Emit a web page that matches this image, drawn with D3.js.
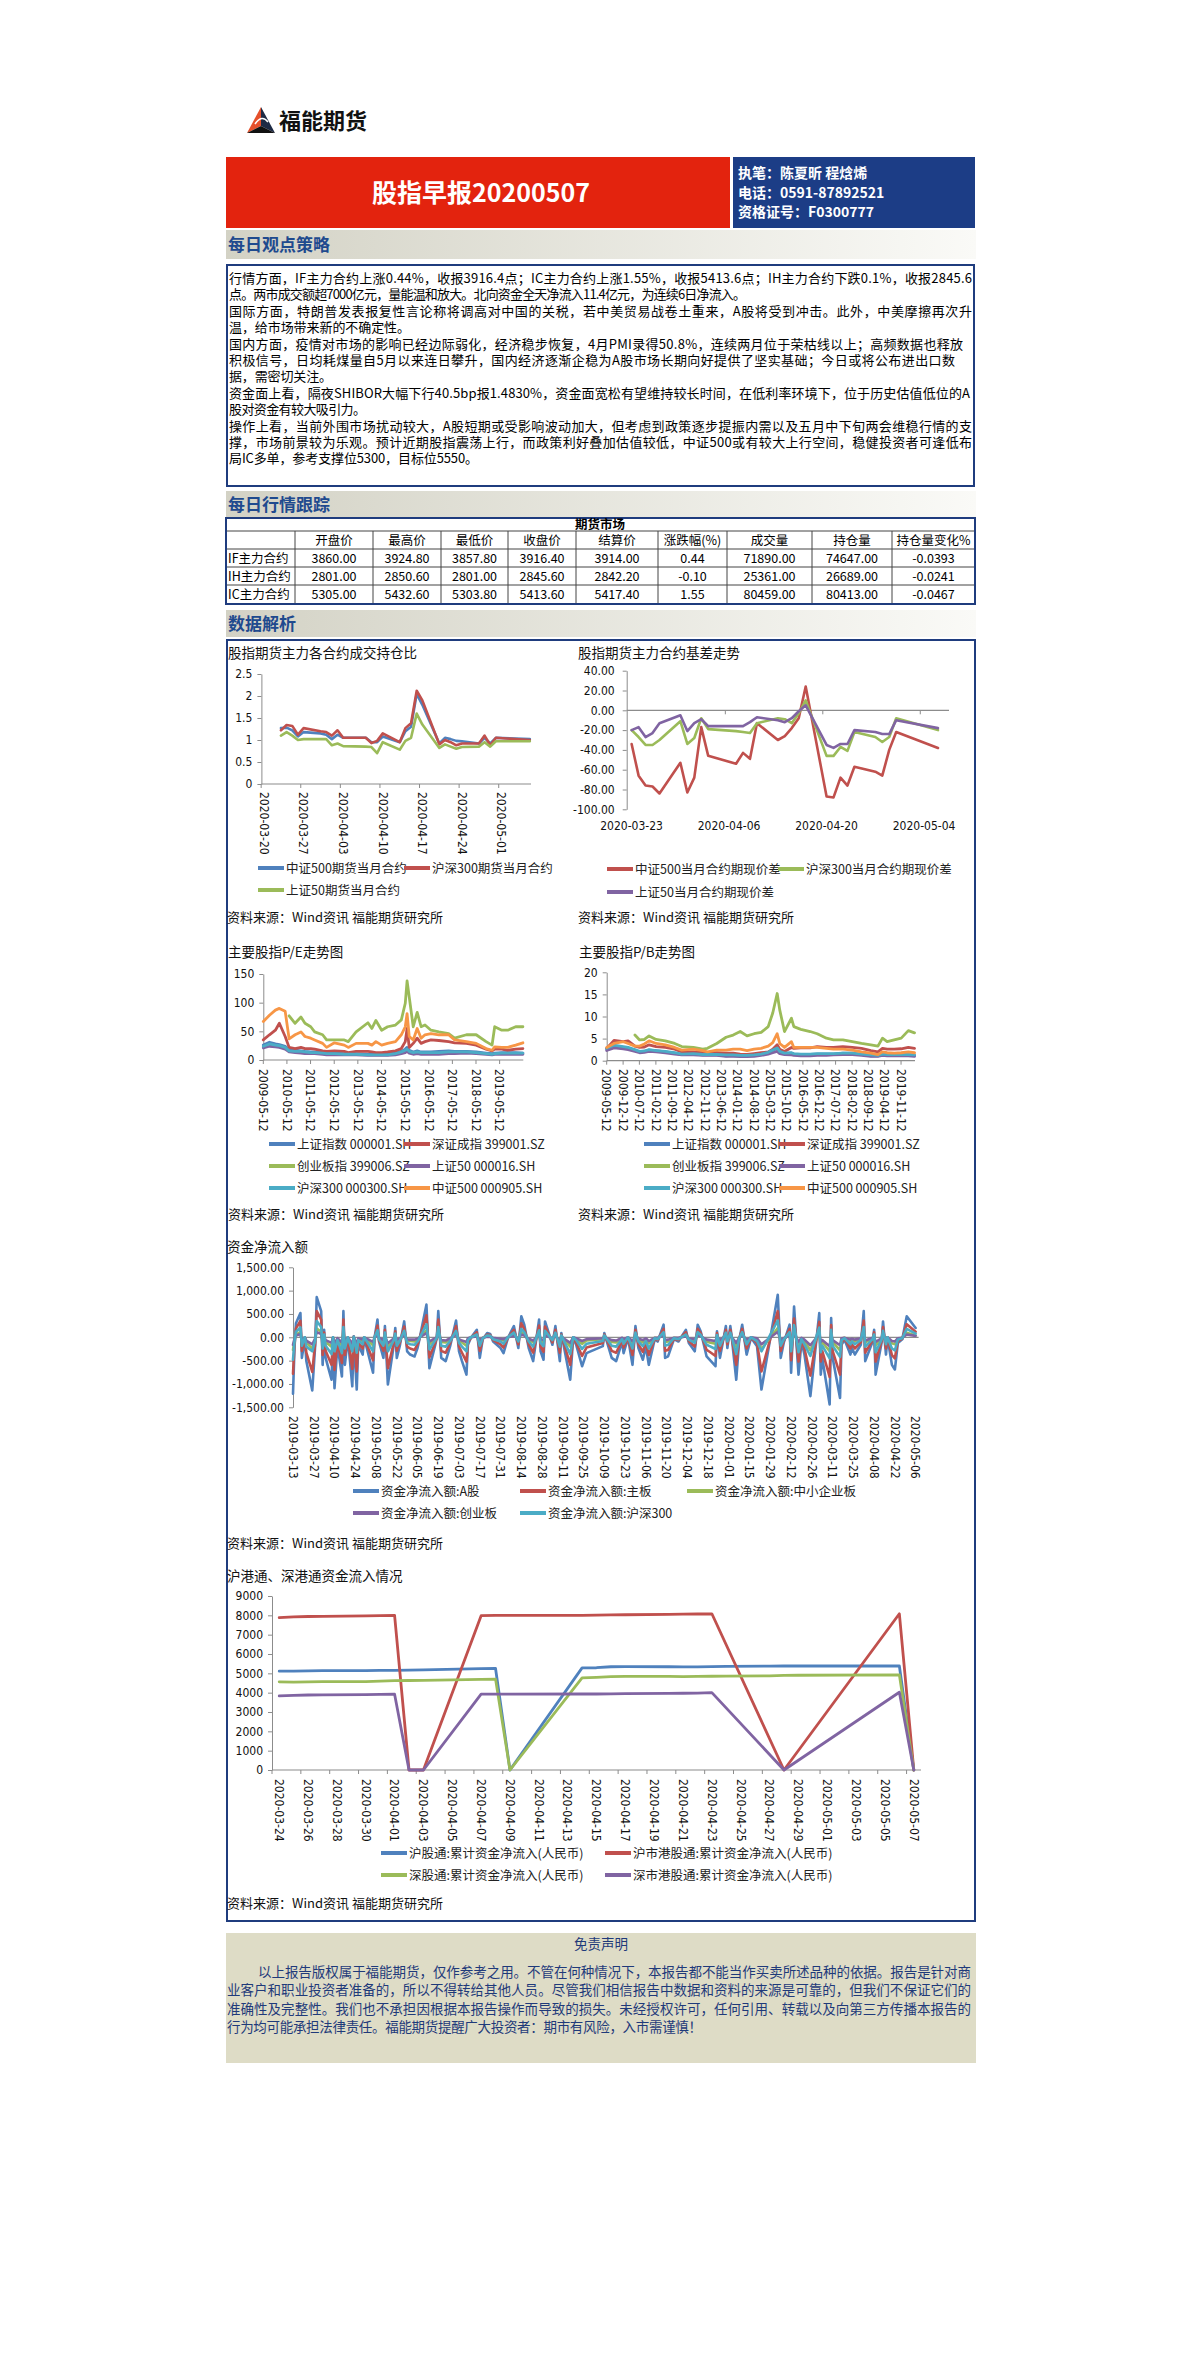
<!DOCTYPE html>
<html>
<meta charset="utf-8">
<head>
<style>
body { margin: 0; background: #fff; }
</style>
<script src="https://d3js.org/d3.v7.min.js"></script>
</head>
<body>
<svg width="1200" height="2362"></svg>
<script>
// ---- text content ----
var viewLines = [
  "行情方面，IF主力合约上涨0.44%，收报3916.4点；IC主力合约上涨1.55%，收报5413.6点；IH主力合约下跌0.1%，收报2845.6",
  "点。两市成交额超7000亿元，量能温和放大。北向资金全天净流入11.4亿元，为连续6日净流入。",
  "国际方面，特朗普发表报复性言论称将调高对中国的关税，若中美贸易战卷土重来，A股将受到冲击。此外，中美摩擦再次升",
  "温，给市场带来新的不确定性。",
  "国内方面，疫情对市场的影响已经边际弱化，经济稳步恢复，4月PMI录得50.8%，连续两月位于荣枯线以上；高频数据也释放",
  "积极信号，日均耗煤量自5月以来连日攀升，国内经济逐渐企稳为A股市场长期向好提供了坚实基础；今日或将公布进出口数",
  "据，需密切关注。",
  "资金面上看，隔夜SHIBOR大幅下行40.5bp报1.4830%，资金面宽松有望维持较长时间，在低利率环境下，位于历史估值低位的A",
  "股对资金有较大吸引力。",
  "操作上看，当前外围市场扰动较大，A股短期或受影响波动加大，但考虑到政策逐步提振内需以及五月中下旬两会维稳行情的支",
  "撑，市场前景较为乐观。预计近期股指震荡上行，而政策利好叠加估值较低，中证500或有较大上行空间，稳健投资者可逢低布",
  "局IC多单，参考支撑位5300，目标位5550。"
];
var disclaimerLines = [
  "以上报告版权属于福能期货，仅作参考之用。不管在何种情况下，本报告都不能当作买卖所述品种的依据。报告是针对商",
  "业客户和职业投资者准备的，所以不得转给其他人员。尽管我们相信报告中数据和资料的来源是可靠的，但我们不保证它们的",
  "准确性及完整性。我们也不承担因根据本报告操作而导致的损失。未经授权许可，任何引用、转载以及向第三方传播本报告的",
  "行为均可能承担法律责任。福能期货提醒广大投资者：期市有风险，入市需谨慎！"
];

// ---- futures table ----
var tableCols = ["开盘价", "最高价", "最低价", "收盘价", "结算价", "涨跌幅(%)", "成交量", "持仓量", "持仓量变化%"];
var contracts = ["IF主力合约", "IH主力合约", "IC主力合约"];
var openPrice = [3860.00, 2801.00, 5305.00];
var highPrice = [3924.80, 2850.60, 5432.60];
var lowPrice = [3857.80, 2801.00, 5303.80];
var closePrice = [3916.40, 2845.60, 5413.60];
var settlePrice = [3914.00, 2842.20, 5417.40];
var changePct = [0.44, -0.10, 1.55];
var volume = [71890.00, 25361.00, 80459.00];
var openInt = [74647.00, 26689.00, 80413.00];
var oiChange = [-0.0393, -0.0241, -0.0467];

// ---- chart 1 & 2: trading days ----
var tradeDates = ["2020-03-23","2020-03-24","2020-03-25","2020-03-26","2020-03-27","2020-03-30","2020-03-31","2020-04-01","2020-04-02","2020-04-03",
  "2020-04-07","2020-04-08","2020-04-09","2020-04-10","2020-04-13","2020-04-14","2020-04-15","2020-04-16","2020-04-17","2020-04-20",
  "2020-04-21","2020-04-22","2020-04-23","2020-04-24","2020-04-27","2020-04-28","2020-04-29","2020-04-30","2020-05-06"];
var ratioNames = ["中证500期货当月合约", "沪深300期货当月合约", "上证50期货当月合约"];
var ratioIC = [1.27,1.28,1.22,1.08,1.18,1.15,1.12,1.02,1.12,1.05, 1.05,0.95,0.95,1.08,0.95,1.20,1.30,2.05,1.80,0.92, 1.05,1.02,0.98,0.97,0.92,1.05,0.92,1.05,1.02];
var ratioIF = [1.22,1.34,1.32,1.12,1.27,1.20,1.18,1.10,1.22,1.05, 1.05,0.93,0.98,1.15,0.95,1.27,1.38,2.12,1.90,0.90, 1.00,0.95,0.88,0.92,0.92,1.10,0.88,1.05,1.00];
var ratioIH = [1.10,1.18,1.10,1.00,1.02,1.02,1.02,0.88,0.92,0.86, 0.85,0.84,0.70,0.95,0.78,0.98,1.05,1.60,1.35,0.82, 0.90,0.85,0.80,0.84,0.85,0.95,0.85,0.97,0.97];

var basisNames = ["中证500当月合约期现价差", "沪深300当月合约期现价差", "上证50当月合约期现价差"];
var basisIC = [-34,-66,-76,-77,-84,-53,-83,-68,-17,-46, -54,-43,-49,-13,-30,-26,-18,-8,24,-87, -88,-68,-76,-57,-62,-66,-40,-22,-38];
var basisIF = [-20,-27,-35,-35,-30,-11,-34,-28,-8,-19, -21,-22,-23,-13,-8,-9,-13,-3,10,-46, -46,-37,-41,-22,-27,-32,-27,-8,-20];
var basisIH = [-20,-17,-27,-23,-13,-5,-21,-13,-9,-16, -16,-16,-12,-7,-10,-12,-8,-1,5,-35, -38,-34,-34,-20,-22,-24,-24,-10,-18];

// ---- chart 3: P/E ----
var indexNames = ["上证指数 000001.SH", "深证成指 399001.SZ", "创业板指 399006.SZ", "上证50 000016.SH", "沪深300 000300.SH", "中证500 000905.SH"];
var peDates = ["2009-05-12","2009-08-15","2009-11-15","2010-01-15","2010-04-15","2010-06-15","2010-09-15","2010-12-15","2011-02-15","2011-05-15",
  "2011-07-15","2011-11-15","2012-01-15","2012-05-15","2012-10-15","2012-12-15","2013-04-15","2013-10-15","2013-12-15","2014-02-15",
  "2014-05-15","2014-08-15","2014-12-15","2015-03-15","2015-05-15","2015-06-12","2015-07-15","2015-09-15","2015-11-15","2016-01-15",
  "2016-03-15","2016-06-15","2016-10-15","2017-03-15","2017-06-15","2017-12-15","2018-05-15","2018-10-15","2019-01-15","2019-02-25",
  "2019-06-15","2019-09-15","2020-01-15","2020-05-06"];
var peSH = [26,31,28,27,24, 18,17,16,15,14, 14,13,12,12,11, 11,11,10,10,10, 10,10,13,15,19, 22,17,14,16,14, 14,14,15,16,15, 15,14,12,11,12, 13,13,13,12];
var peSZ = [35,44,52,64,41, 22,20,22,20,20, 19,16,15,16,15, 13,15,15,14,13, 13,14,16,20,32, 55,22,29,38,29, 32,35,34,32,30, 29,26,19,16,19, 19,17,19,20];
var peCYB = [null,null,null,null,null, 77,64,75,64,58, 49,44,35,35,35, 32,49,65,55,69, 52,58,61,70,99, 138,110,58,83,58, 61,52,49,46,38, 44,44,32,26,58, 52,52,58,58];
var peSZ50 = [21,24,23,22,19, 14,13,12,11,11, 11,10,9,9,9, 9,9,8,8,8, 8,8,9,11,13, 15,12,10,11,10, 10,10,10,11,11, 12,11,10,9,10, 10,10,10,10];
var peHS300 = [24,28,26,25,22, 16,15,15,14,13, 13,12,11,11,10, 10,10,9,9,9, 9,9,11,14,17, 19,15,13,14,13, 13,13,13,14,14, 14,13,11,10,11, 12,12,12,12];
var peZZ500 = [67,78,87,90,85, 37,44,49,41,38, 35,29,22,30,26, 22,29,29,26,32, 26,29,32,44,58, 81,41,35,55,38, 44,46,44,44,35, 32,29,20,17,23, 22,22,26,30];

// ---- chart 4: P/B ----
var pbDates = ["2009-05-12","2009-08-15","2009-12-15","2010-02-15","2010-05-15","2010-07-15","2010-09-15","2010-11-15","2011-02-15","2011-06-15",
  "2011-10-15","2012-01-15","2012-06-15","2012-10-15","2012-12-15","2013-04-15","2013-08-15","2013-11-15","2014-02-15","2014-05-15",
  "2014-08-15","2014-11-15","2015-02-15","2015-04-15","2015-06-12","2015-07-15","2015-09-15","2015-12-15","2016-01-15","2016-04-15",
  "2016-08-15","2016-11-15","2017-03-15","2017-06-15","2017-10-15","2018-02-15","2018-06-15","2018-10-15","2019-01-15","2019-03-15",
  "2019-05-15","2019-08-15","2019-11-15","2020-02-15","2020-05-06"];
var pbSH = [2.6,3.3,3.0,2.8,2.3,2.0,2.1,2.4,2.3,2.0, 1.7,1.4,1.5,1.3,1.3,1.3,1.1,1.2,1.1,1.1, 1.2,1.4,1.8,2.3,2.8,2.0,1.7,1.7,1.5,1.4, 1.4,1.5,1.5,1.5,1.7,1.7,1.4,1.1,1.1,1.4, 1.3,1.3,1.3,1.3,1.2];
var pbSZ = [2.8,4.6,4.3,4.5,3.3,3.0,3.1,3.6,3.2,3.0, 2.6,2.0,2.0,1.8,1.7,1.8,1.7,1.7,1.5,1.4, 1.6,1.8,2.0,2.6,3.6,2.6,2.1,3.0,2.8,2.9, 2.9,3.2,3.0,3.0,3.2,3.0,2.8,2.3,2.0,2.8, 2.6,2.6,2.7,3.0,2.8];
var pbCYB = [null,null,null,null,5.8,4.7,4.8,5.6,4.8,4.5, 3.9,3.2,3.0,2.6,2.8,3.9,5.3,5.8,6.6,5.6, 6.1,6.4,7.7,10.8,15.2,11.5,6.6,9.6,7.7,7.1, 6.6,6.1,5.1,4.7,4.7,4.3,3.9,3.6,3.3,5.1, 4.3,4.7,5.1,6.8,6.3];
var pbSZ50 = [2.3,2.9,2.7,2.5,2.1,1.8,1.9,2.1,2.0,1.8, 1.5,1.3,1.3,1.2,1.2,1.2,1.0,1.0,0.9,0.9, 1.0,1.2,1.5,1.8,2.1,1.6,1.4,1.3,1.2,1.1, 1.1,1.2,1.2,1.3,1.4,1.4,1.2,1.0,1.0,1.2, 1.1,1.1,1.1,1.1,1.0];
var pbHS300 = [2.8,3.5,3.2,3.0,2.5,2.1,2.2,2.5,2.3,2.1, 1.8,1.5,1.6,1.4,1.4,1.4,1.3,1.3,1.2,1.2, 1.3,1.5,1.9,2.4,2.9,2.1,1.7,1.8,1.6,1.5, 1.5,1.6,1.6,1.6,1.7,1.7,1.5,1.3,1.2,1.5, 1.4,1.4,1.4,1.4,1.3];
var pbZZ500 = [3.0,3.9,4.3,3.9,3.3,3.3,3.8,4.5,3.9,3.6, 3.0,2.4,2.6,2.3,2.0,2.4,2.4,2.6,2.6,2.3, 2.6,2.8,3.3,4.1,6.1,3.9,3.0,4.3,3.0,3.0, 3.0,3.0,2.8,2.6,2.6,2.4,2.0,1.7,1.4,2.0, 1.8,1.7,1.8,2.0,1.8];

// ---- chart 5: net capital inflow ----
var flowNames = ["资金净流入额:A股", "资金净流入额:主板", "资金净流入额:中小企业板", "资金净流入额:创业板", "资金净流入额:沪深300"];
var flowDates = ["2019-03-13","2019-03-14","2019-03-15","2019-03-18","2019-03-19","2019-03-21","2019-03-22","2019-03-26","2019-03-28","2019-03-29",
  "2019-04-01","2019-04-02","2019-04-03","2019-04-04","2019-04-08","2019-04-09","2019-04-10","2019-04-12","2019-04-15","2019-04-16",
  "2019-04-17","2019-04-19","2019-04-22","2019-04-23","2019-04-25","2019-04-26","2019-04-29","2019-04-30","2019-05-06","2019-05-07",
  "2019-05-09","2019-05-10","2019-05-13","2019-05-14","2019-05-16","2019-05-20","2019-05-21","2019-05-22","2019-05-24","2019-05-27",
  "2019-05-29","2019-05-31","2019-06-03","2019-06-05","2019-06-06","2019-06-11","2019-06-13","2019-06-17","2019-06-18","2019-06-19",
  "2019-06-21","2019-06-24","2019-06-27","2019-07-01","2019-07-03","2019-07-05","2019-07-08","2019-07-09","2019-07-11","2019-07-15",
  "2019-07-17","2019-07-19","2019-07-22","2019-07-24","2019-07-26","2019-07-31","2019-08-02","2019-08-05","2019-08-09","2019-08-12",
  "2019-08-14","2019-08-16","2019-08-19","2019-08-22","2019-08-26","2019-08-27","2019-08-29","2019-08-30","2019-09-04","2019-09-06",
  "2019-09-09","2019-09-10","2019-09-16","2019-09-18","2019-09-20","2019-09-24","2019-09-27","2019-10-08","2019-10-09","2019-10-14",
  "2019-10-17","2019-10-21","2019-10-22","2019-10-25","2019-10-28","2019-10-30","2019-11-01","2019-11-04","2019-11-06","2019-11-08",
  "2019-11-12","2019-11-14","2019-11-18","2019-11-19","2019-11-21","2019-11-25","2019-11-28","2019-12-03","2019-12-05","2019-12-09",
  "2019-12-11","2019-12-13","2019-12-17","2019-12-19","2019-12-23","2019-12-24","2019-12-26","2019-12-30","2019-12-31","2020-01-02",
  "2020-01-03","2020-01-06","2020-01-08","2020-01-10","2020-01-13","2020-01-16","2020-01-20","2020-01-23","2020-02-03","2020-02-05",
  "2020-02-07","2020-02-11","2020-02-12","2020-02-14","2020-02-17","2020-02-19","2020-02-21","2020-02-25","2020-03-02","2020-03-03",
  "2020-03-04","2020-03-09","2020-03-10","2020-03-11","2020-03-16","2020-03-17","2020-03-19","2020-03-23","2020-03-24","2020-03-26",
  "2020-03-30","2020-04-01","2020-04-02","2020-04-07","2020-04-08","2020-04-09","2020-04-13","2020-04-14","2020-04-16","2020-04-17",
  "2020-04-20","2020-04-22","2020-04-24","2020-04-27","2020-04-30","2020-05-06"];
var flowA = [-1210,-230,300,520,-440,-10,-510,-1140,-160,860, 560,-590,160,-440,-910,-10,-1090,-160,-840,560,
  -590,0,-1050,20,-1120,-160,-370,-10,-760,-10, 380,-90,-440,240,-1010,-160,200,-440,-190,340,
  -300,-370,-410,-230,-90,700,-660,-160,-10,560, -440,-510,-190,360,-300,-510,-800,-160,-10,160,
  -440,-40,90,70,-90,-230,-340,-10,240,-230, 450,270,-230,-510,380,-300,-480,340,-160,240,
  -510,90,-910,-10,-160,-620,-340,-190,90,-440, -510,-90,-340,-10,-590,240,-230,-480,-190,-590,
  -40,-90,270,-440,-410,-40,-90,160,-120,-300, 270,130,-410,-480,-620,130,-440,240,-230,240,
  -10,-910,-50,270,-370,-10,-190,-1120,910,-440, -120,270,-760,660,-800,-90,-370,-1260,520,-800,
  -440,-1440,410,-440,-1300,-160,-50,-370,-230,-370, -160,560,-510,-90,160,-800,-120,340,-370,0,
  -590,-690,-120,-40,450,200];
var flowMain = [-780,-160,190,350,-290,-10,-330,-740,-110,560, 380,-380,100,-290,-590,-10,-700,-110,-550,380,
  -380,0,-680,10,-730,-110,-240,-10,-490,-10, 250,-60,-290,160,-660,-110,130,-290,-120,230,
  -200,-240,-270,-150,-60,470,-430,-110,-10,380, -290,-330,-120,240,-200,-330,-520,-110,-10,110,
  -290,-30,60,50,-60,-150,-220,-10,160,-150, 300,180,-150,-330,250,-200,-310,230,-110,160,
  -330,60,-590,-10,-110,-400,-220,-120,60,-290, -330,-60,-220,-10,-380,160,-150,-310,-120,-380,
  -30,-60,180,-290,-270,-30,-60,110,-80,-200, 180,90,-270,-310,-400,90,-290,160,-150,160,
  -10,-590,-30,180,-240,-10,-120,-730,560,-290, -80,180,-490,400,-520,-60,-240,-820,330,-520,
  -290,-850,260,-290,-800,-110,-30,-240,-150,-240, -110,360,-330,-60,110,-520,-80,220,-240,0,
  -380,-450,-80,-30,280,120];
var flowSME = [-270,-50,60,110,-100,0,-110,-250,-40,190, 120,-130,40,-100,-200,0,-240,-40,-180,120,
  -130,0,-230,0,-250,-40,-80,0,-170,0, 80,-20,-100,50,-220,-40,40,-100,-40,70,
  -70,-80,-90,-50,-20,150,-150,-40,0,120, -100,-110,-40,80,-70,-110,-180,-40,0,40,
  -100,-10,20,20,-20,-50,-70,0,50,-50, 100,60,-50,-110,80,-70,-110,70,-40,50,
  -110,20,-200,0,-40,-140,-70,-40,20,-100, -110,-20,-70,0,-130,50,-50,-110,-40,-130,
  -10,-20,60,-100,-90,-10,-20,40,-30,-70, 60,30,-90,-110,-140,30,-100,50,-50,50,
  0,-200,-10,60,-80,0,-40,-250,200,-100, -30,60,-170,150,-180,-20,-80,-280,110,-180,
  -100,-300,90,-100,-280,-40,-10,-80,-50,-80, -40,120,-110,-20,40,-180,-30,70,-80,0,
  -130,-150,-30,-10,100,40];
var flowGEM = [-160,-30,40,70,-60,0,-70,-150,-20,110, 70,-80,20,-60,-120,0,-140,-20,-110,70,
  -80,0,-140,0,-150,-20,-50,0,-100,0, 50,-10,-60,30,-130,-20,30,-60,-20,40,
  -40,-50,-50,-30,-10,90,-90,-20,0,70, -60,-70,-20,50,-40,-70,-100,-20,0,20,
  -60,-10,10,10,-10,-30,-40,0,30,-30, 60,40,-30,-70,50,-40,-60,40,-20,30,
  -70,10,-120,0,-20,-80,-40,-20,10,-60, -70,-10,-40,0,-80,30,-30,-60,-20,-80,
  -10,-10,40,-60,-50,-10,-10,20,-20,-40, 40,20,-50,-60,-80,20,-60,30,-30,30,
  0,-120,-10,40,-50,0,-20,-150,120,-60, -20,40,-100,90,-100,-10,-50,-170,70,-100,
  -60,-190,50,-60,-170,-20,-10,-50,-30,-50, -20,70,-70,-10,20,-100,-20,40,-50,0,
  -80,-90,-20,-10,60,30];
var flowHS300 = [-480,-90,120,210,-180,0,-200,-300,-60,350, 220,-240,60,-180,-360,0,-300,-60,-340,220,
  -240,0,-300,10,-330,-60,-150,0,-300,0, 150,-40,-180,100,-300,-60,80,-180,-80,140,
  -120,-150,-160,-90,-40,280,-260,-60,0,220, -180,-200,-80,140,-120,-200,-300,-60,0,60,
  -180,-20,40,30,-40,-90,-140,0,100,-90, 180,110,-90,-200,150,-120,-190,140,-60,100,
  -200,40,-360,0,-60,-250,-140,-80,40,-180, -200,-40,-140,0,-240,100,-90,-190,-80,-240,
  -20,-40,110,-180,-160,-20,-40,60,-50,-120, 110,50,-160,-190,-250,50,-180,100,-90,100,
  0,-360,-20,110,-150,0,-80,-300,360,-180, -50,110,-300,260,-320,-40,-150,-400,210,-320,
  -180,-450,160,-180,-420,-60,-20,-150,-90,-150, -60,220,-200,-40,60,-320,-50,140,-150,0,
  -240,-280,-50,-20,180,80];

// ---- chart 6: stock connect cumulative inflow ----
var hkNames = ["沪股通:累计资金净流入(人民币)", "沪市港股通:累计资金净流入(人民币)", "深股通:累计资金净流入(人民币)", "深市港股通:累计资金净流入(人民币)"];
var hkDates = ["2020-03-24","2020-03-25","2020-03-26","2020-03-27","2020-03-30","2020-03-31","2020-04-01","2020-04-02","2020-04-03","2020-04-07",
  "2020-04-08","2020-04-09","2020-04-14","2020-04-15","2020-04-16","2020-04-17","2020-04-20","2020-04-21","2020-04-22","2020-04-23",
  "2020-04-24","2020-04-27","2020-04-28","2020-04-29","2020-05-06","2020-05-07"];
var shConnect = [5110,5110,5130,5140,5140,5150,5150,5170,5180,5240, 5250,0,5280,5290,5340,5350,5340,5330,5330,5350, 5360,5370,5380,5380,5380,0];
var hkShConnect = [7880,7920,7940,7950,7970,7990,8000,0,0,7980, 8000,8000,8000,8010,8020,8030,8050,8060,8070,8080, null,null,0,null,8080,0];
var szConnect = [4560,4550,4560,4570,4570,4600,4620,4630,4640,4690, 4700,0,4760,4790,4830,4840,4840,4830,4840,4850, 4860,4870,4890,4900,4920,0];
var hkSzConnect = [3830,3860,3880,3890,3900,3910,3920,0,0,3920, 3920,3920,3930,3930,3940,3950,3960,3970,3980,4000, null,null,0,null,4020,0];

// ================= drawing =================
var svg = d3.select("svg");
var CJK = "'Noto Sans CJK SC', sans-serif";
var NUM = "'Liberation Sans Narrow', 'Arial Narrow', 'DejaVu Sans Condensed', sans-serif";
var NAVY = "#1F3C7E", AXIS = "#8c8c8c";
var C = {blue: "#4F81BD", red: "#C0504D", green: "#9BBB59", purple: "#8064A2", cyan: "#4BACC6", orange: "#F79646"};
var pd = d3.timeParse("%Y-%m-%d");
var fday = d3.timeFormat("%Y-%m-%d");
var loc = d3.formatLocale({decimal: ".", thousands: ",", grouping: [3], currency: ["", ""], minus: "-"});

svg.append("rect").attr("width", 1200).attr("height", 2362).attr("fill", "#fff");
var defs = svg.append("defs");
var grad = defs.append("linearGradient").attr("id", "secGrad");
grad.append("stop").attr("offset", "0%").attr("stop-color", "#D3D2C5");
grad.append("stop").attr("offset", "100%").attr("stop-color", "#FAFAF7");

function txt(x, y, s, size, opt) {
  opt = opt || {};
  var t = svg.append("text").attr("x", x).attr("y", y).attr("font-size", size)
    .attr("font-family", opt.font || CJK).attr("fill", opt.fill || "#111")
    .attr("text-anchor", opt.anchor || "start").text(s);
  if (opt.weight) t.attr("font-weight", opt.weight);
  if (opt.len) t.attr("textLength", opt.len).attr("lengthAdjust", "spacing");
  return t;
}

// logo
svg.append("path").attr("d", "M261,107 L247,133 L261,126 Z").attr("fill", "#E5502B");
svg.append("path").attr("d", "M261,107 L275,133 L261,126 Z").attr("fill", "#1E2A44");
svg.append("path").attr("d", "M247,133 L261,126 L275,133 Z").attr("fill", "#111");
svg.append("path").attr("d", "M255,124 Q262,114 268,122").attr("fill", "none").attr("stroke", "#fff").attr("stroke-width", 1.6);
txt(279, 129, "福能期货", 22, {weight: "bold", fill: "#111"});

// header bar
svg.append("rect").attr("x", 226).attr("y", 157).attr("width", 504).attr("height", 71).attr("fill", "#E3230E");
svg.append("rect").attr("x", 733).attr("y", 157).attr("width", 242).attr("height", 71).attr("fill", "#1C3D86");
txt(481, 202, "股指早报20200507", 25, {anchor: "middle", fill: "#fff", weight: "bold"});
txt(738, 178, "执笔：陈夏昕 程焓烯", 14, {fill: "#fff", weight: "bold"});
txt(738, 198, "电话：0591-87892521", 14, {fill: "#fff", weight: "bold"});
txt(738, 217, "资格证号：F0300777", 14, {fill: "#fff", weight: "bold"});

function section(y, h, label) {
  svg.append("rect").attr("x", 226).attr("y", y).attr("width", 750).attr("height", h).attr("fill", "url(#secGrad)");
  txt(228, y + h / 2 + 6, label, 17, {weight: "bold", fill: "#1F4A8E"});
}
section(230, 29, "每日观点策略");
section(491, 27, "每日行情跟踪");
section(610, 27, "数据解析");

// view text box
svg.append("rect").attr("x", 227).attr("y", 265).attr("width", 747).attr("height", 221)
  .attr("fill", "none").attr("stroke", NAVY).attr("stroke-width", 2);
var viewWidths = [743, 517, 743, 181, 734, 726, 103, 741, 137, 743, 743, 249];
viewLines.forEach(function(s, i) {
  txt(229, 283 + i * 16.4, s, 13, {len: viewWidths[i], fill: "#000"});
});

// futures table
var cols = [226, 295, 373, 441, 508, 576, 658, 727, 812, 892, 975];
var rowsY = [519, 531, 549, 567, 585, 603];
var tg = svg.append("g");
rowsY.slice(1, 5).forEach(function(y) {
  tg.append("line").attr("x1", 226).attr("x2", 975).attr("y1", y).attr("y2", y).attr("stroke", "#444");
});
cols.slice(1, 10).forEach(function(x) {
  tg.append("line").attr("x1", x).attr("x2", x).attr("y1", 531).attr("y2", 603).attr("stroke", "#444");
});
tg.append("rect").attr("x", 226).attr("y", 518).attr("width", 749).attr("height", 86)
  .attr("fill", "none").attr("stroke", NAVY).attr("stroke-width", 2);
txt(600, 529, "期货市场", 12.5, {anchor: "middle", weight: "bold", fill: "#000"});
tableCols.forEach(function(s, j) {
  txt((cols[j + 1] + cols[j + 2]) / 2, 545, s, 12.5, {anchor: "middle", fill: "#000"});
});
contracts.forEach(function(name, r) {
  var y = 563 + r * 18;
  txt(228, y, name, 12.5, {fill: "#000"});
  var vals = [openPrice[r].toFixed(2), highPrice[r].toFixed(2), lowPrice[r].toFixed(2), closePrice[r].toFixed(2),
    settlePrice[r].toFixed(2), changePct[r].toFixed(2), volume[r].toFixed(2), openInt[r].toFixed(2), oiChange[r].toFixed(4)];
  vals.forEach(function(v, j) {
    txt((cols[j + 1] + cols[j + 2]) / 2, y, v, 12.5, {anchor: "middle", fill: "#000"});
  });
});

// data box
svg.append("rect").attr("x", 227).attr("y", 640).attr("width", 748).attr("height", 1281)
  .attr("fill", "none").attr("stroke", NAVY).attr("stroke-width", 2);

// ---- chart helpers ----
function yAxis(x0, y, ticks, fmt, pad) {
  var g = svg.append("g").attr("transform", "translate(" + x0 + ",0)")
    .call(d3.axisLeft(y).tickValues(ticks).tickFormat(fmt).tickSize(4).tickSizeOuter(0).tickPadding(pad || 5));
  g.select(".domain").attr("stroke", AXIS);
  g.selectAll(".tick line").attr("stroke", AXIS);
  g.selectAll(".tick text").attr("font-family", NUM).attr("font-size", 12).attr("fill", "#111");
}
function hLine(x, yv) {
  svg.append("line").attr("x1", x.range()[0]).attr("x2", x.range()[1]).attr("y1", yv).attr("y2", yv)
    .attr("stroke", AXIS).attr("stroke-width", 1.2);
}
function tickMarks(x, dates, y0) {
  svg.append("g").selectAll("line").data(dates).join("line")
    .attr("x1", function(d) { return x(d); }).attr("x2", function(d) { return x(d); })
    .attr("y1", y0).attr("y2", y0 + 4).attr("stroke", AXIS);
}
function rotLabels(x, dates, top) {
  svg.append("g").selectAll("text").data(dates).join("text")
    .attr("transform", function(d) { return "translate(" + x(d) + "," + top + ") rotate(90)"; })
    .attr("dy", "0.35em").attr("font-family", NUM).attr("font-size", 12).attr("fill", "#111")
    .text(fday);
}
function series(x, y, dates, list, w) {
  var line = d3.line().x(function(p) { return x(p[0]); }).y(function(p) { return y(p[1]); });
  list.forEach(function(s) {
    var pts = dates.map(function(d, i) { return [d, s[0][i]]; }).filter(function(p) { return p[1] != null; });
    svg.append("path").datum(pts).attr("fill", "none").attr("stroke", s[1]).attr("stroke-width", w || 2.6)
      .attr("stroke-linejoin", "round").attr("stroke-linecap", "round").attr("d", line);
  });
}
function legend(items) {
  items.forEach(function(it) {
    svg.append("line").attr("x1", it[0]).attr("x2", it[0] + 26).attr("y1", it[1]).attr("y2", it[1])
      .attr("stroke", it[2]).attr("stroke-width", 4);
    txt(it[0] + 28, it[1] + 4.5, it[3], 12.5, {fill: "#222"});
  });
}
var SRC = "资料来源：Wind资讯 福能期货研究所";

// ---- chart 1: volume / open interest ----
var td = tradeDates.map(pd);
var x1 = d3.scaleTime().domain([new Date(2020, 2, 19, 13), new Date(2020, 4, 6, 5)]).range([261.4, 531]);
var y1 = d3.scaleLinear().domain([0, 2.5]).range([784, 674]);
txt(228, 658, "股指期货主力各合约成交持仓比", 13.5);
hLine(x1, y1(0));
yAxis(261.4, y1, [0, 0.5, 1, 1.5, 2, 2.5], function(d) { return String(d); });
var wk1 = d3.range(7).map(function(k) { return d3.timeDay.offset(new Date(2020, 2, 20), 7 * k); });
tickMarks(x1, wk1.map(function(d) { return d3.timeHour.offset(d, -12); }), y1(0));
rotLabels(x1, wk1, 792);
series(x1, y1, td, [[ratioIC, C.blue], [ratioIF, C.red], [ratioIH, C.green]]);
legend([[258, 868, C.blue, ratioNames[0]], [404, 868, C.red, ratioNames[1]], [258, 890, C.green, ratioNames[2]]]);
txt(227, 922, SRC, 13);

// ---- chart 2: basis ----
var x2 = d3.scaleTime().domain([new Date(2020, 2, 22, 7), new Date(2020, 4, 7, 14)]).range([626.7, 949]);
var y2 = d3.scaleLinear().domain([-100, 40]).range([809.3, 670.7]);
txt(578, 658, "股指期货主力合约基差走势", 13.5);
yAxis(626.7, y2, d3.range(-100, 41, 20), loc.format(".2f"), 8);
hLine(x2, y2(0));
var bw = [new Date(2020, 2, 23), new Date(2020, 3, 6), new Date(2020, 3, 20), new Date(2020, 4, 4)];
tickMarks(x2, bw.slice(1).map(function(d) { return d3.timeHour.offset(d, -13); }), y2(0));
svg.append("g").selectAll("text").data(bw).join("text")
  .attr("x", function(d) { return x2(d); }).attr("y", 830).attr("text-anchor", "middle")
  .attr("font-family", NUM).attr("font-size", 12).attr("fill", "#111").text(fday);
series(x2, y2, td, [[basisIC, C.red], [basisIF, C.green], [basisIH, C.purple]]);
legend([[607, 869, C.red, basisNames[0]], [778, 869, C.green, basisNames[1]], [607, 892, C.purple, basisNames[2]]]);
txt(578, 922, SRC, 13);

// ---- chart 3: P/E ----
var x3 = d3.scaleTime().domain([new Date(2009, 4, 12), new Date(2020, 4, 12)]).range([263.3, 523.3]);
var y3 = d3.scaleLinear().domain([0, 150]).range([1060, 974]);
txt(228, 957, "主要股指P/E走势图", 13.5);
hLine(x3, y3(0));
yAxis(263.3, y3, [0, 50, 100, 150], function(d) { return String(d); });
var yr3 = d3.range(11).map(function(k) { return d3.timeYear.offset(new Date(2009, 4, 12), k); });
tickMarks(x3, yr3, y3(0));
rotLabels(x3, yr3, 1069);
series(x3, y3, peDates.map(pd), [[peSH, C.blue], [peSZ, C.red], [peCYB, C.green], [peSZ50, C.purple], [peHS300, C.cyan], [peZZ500, C.orange]], 2.8);
legend([[269, 1144, C.blue, indexNames[0]], [404, 1144, C.red, indexNames[1]],
  [269, 1166, C.green, indexNames[2]], [404, 1166, C.purple, indexNames[3]],
  [269, 1188, C.cyan, indexNames[4]], [404, 1188, C.orange, indexNames[5]]]);
txt(228, 1219, SRC, 13);

// ---- chart 4: P/B ----
var x4 = d3.scaleTime().domain([new Date(2009, 4, 12), new Date(2020, 4, 12)]).range([606.7, 915]);
var y4 = d3.scaleLinear().domain([0, 20]).range([1060.7, 972.3]);
txt(579, 957, "主要股指P/B走势图", 13.5);
hLine(x4, y4(0));
yAxis(606.7, y4, [0, 5, 10, 15, 20], function(d) { return String(d); });
var m4 = d3.range(19).map(function(k) { return d3.timeMonth.offset(new Date(2009, 4, 12), 7 * k); });
tickMarks(x4, m4, y4(0));
rotLabels(x4, m4, 1069);
series(x4, y4, pbDates.map(pd), [[pbSH, C.blue], [pbSZ, C.red], [pbCYB, C.green], [pbSZ50, C.purple], [pbHS300, C.cyan], [pbZZ500, C.orange]], 2.8);
legend([[644, 1144, C.blue, indexNames[0]], [779, 1144, C.red, indexNames[1]],
  [644, 1166, C.green, indexNames[2]], [779, 1166, C.purple, indexNames[3]],
  [644, 1188, C.cyan, indexNames[4]], [779, 1188, C.orange, indexNames[5]]]);
txt(578, 1219, SRC, 13);

// ---- chart 5: net inflow ----
var x5 = d3.scaleTime().domain([new Date(2019, 2, 13), new Date(2020, 4, 8)]).range([293, 918.6]);
var y5 = d3.scaleLinear().domain([-1500, 1500]).range([1407.3, 1267.3]);
txt(227, 1252, "资金净流入额", 13.5);
yAxis(293, y5, d3.range(-1500, 1501, 500), loc.format(",.2f"));
hLine(x5, y5(0));
var w5 = d3.range(31).map(function(k) { return d3.timeDay.offset(new Date(2019, 2, 13), 14 * k); });
rotLabels(x5, w5, 1416);
series(x5, y5, flowDates.map(pd), [[flowA, C.blue], [flowMain, C.red], [flowSME, C.green], [flowGEM, C.purple], [flowHS300, C.cyan]], 2.6);
legend([[353, 1491, C.blue, flowNames[0]], [520, 1491, C.red, flowNames[1]], [687, 1491, C.green, flowNames[2]],
  [353, 1513, C.purple, flowNames[3]], [520, 1513, C.cyan, flowNames[4]]]);
txt(227, 1548, SRC, 13);

// ---- chart 6: stock connect ----
var x6 = d3.scaleTime().domain([new Date(2020, 2, 23, 12), new Date(2020, 4, 7, 12)]).range([272, 921]);
var y6 = d3.scaleLinear().domain([0, 9000]).range([1770, 1596]);
txt(227, 1581, "沪港通、深港通资金流入情况", 13.5);
yAxis(272, y6, d3.range(0, 9001, 1000), function(d) { return String(d); });
hLine(x6, y6(0));
var d6 = d3.range(23).map(function(k) { return d3.timeDay.offset(new Date(2020, 2, 24), 2 * k); });
tickMarks(x6, d3.range(23).map(function(k) { return d3.timeDay.offset(new Date(2020, 2, 23, 12), 2 * k); }), y6(0));
rotLabels(x6, d6, 1779);
series(x6, y6, hkDates.map(pd), [[shConnect, C.blue], [hkShConnect, C.red], [szConnect, C.green], [hkSzConnect, C.purple]], 2.8);
legend([[381, 1853, C.blue, hkNames[0]], [605, 1853, C.red, hkNames[1]],
  [381, 1875, C.green, hkNames[2]], [605, 1875, C.purple, hkNames[3]]]);
txt(227, 1908, SRC, 13);

// ---- disclaimer ----
svg.append("rect").attr("x", 226).attr("y", 1933).attr("width", 750).attr("height", 130).attr("fill", "#DEDCC6");
txt(601, 1949, "免责声明", 13.5, {anchor: "middle", fill: "#1F3A7A"});
var discX = [258, 227, 227, 227], discW = [713, 744, 744, 475];
disclaimerLines.forEach(function(s, i) {
  txt(discX[i], 1977 + i * 18.3, s, 13.5, {fill: "#1F3A7A", len: discW[i]});
});
</script>
</body>
</html>
